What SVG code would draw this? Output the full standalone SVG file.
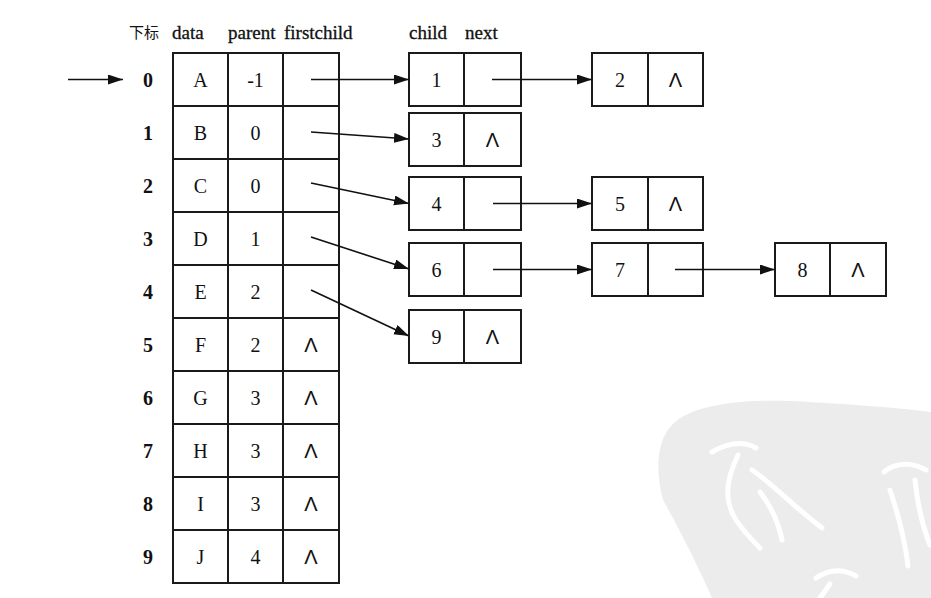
<svg xmlns="http://www.w3.org/2000/svg" width="931" height="598" viewBox="0 0 931 598">
<style>
.bg{fill:#ffffff}
.cell{fill:#ffffff;stroke:#1a1a1a;stroke-width:2}
.ln{stroke:#1a1a1a;stroke-width:2;fill:none}
.t{font-family:"Liberation Serif","DejaVu Serif",serif;font-size:20px;fill:#111;text-anchor:middle}
.ix{font-weight:bold}
.h{font-family:"Liberation Serif","DejaVu Serif",serif;font-size:19px;fill:#111;stroke:#111;stroke-width:0.3}
.cjk{font-family:"Liberation Serif","Noto Sans CJK SC",serif;font-size:15px;fill:#111}
.nul{font-family:"Liberation Sans","DejaVu Sans",sans-serif;font-size:20px;fill:#111;text-anchor:middle}
.arr{stroke:#111;stroke-width:1.6;fill:none;marker-end:url(#ah)}
.wm{fill:#ececec}
.ws{stroke:#ffffff;stroke-width:5;fill:none;stroke-linecap:round}
</style>
<defs>
<marker id="ah" markerUnits="userSpaceOnUse" markerWidth="16" markerHeight="11" refX="15" refY="5" orient="auto">
<path d="M0,0 L15,5 L0,10 z" fill="#111"/>
</marker>
</defs>
<rect class="bg" x="0" y="0" width="931" height="598"/>
<g id="watermark">
<path class="wm" d="M672,425 C690,405 740,399 790,401 C850,404 900,408 931,412 L931,598 L712,598 C700,570 680,530 663,500 C655,470 657,440 672,425 Z"/>
<path class="ws" d="M712,452 C726,444 742,440 756,448"/>
<path class="ws" d="M738,455 C728,476 722,498 736,520 C744,532 752,540 760,548"/>
<path class="ws" d="M752,470 C768,480 786,500 822,528"/>
<path class="ws" d="M760,492 C770,505 778,520 782,540"/>
<path class="ws" d="M884,472 C896,462 912,462 926,470"/>
<path class="ws" d="M890,490 C900,520 905,540 908,566"/>
<path class="ws" d="M915,480 C918,510 924,530 930,545"/>
<path class="ws" d="M816,578 C828,570 842,568 856,576"/>
<path class="ws" d="M830,584 L820,598"/>
</g>
<g id="headers">
<text class="cjk" x="129" y="38">下标</text>
<text class="h" x="172" y="39">data</text>
<text class="h" x="228" y="39">parent</text>
<text class="h" x="284" y="39">firstchild</text>
<text class="h" x="409" y="39">child</text>
<text class="h" x="465" y="39">next</text>
</g>
<g id="row0"><rect class="cell" x="173" y="53" width="166" height="53"/><line class="ln" x1="228" y1="53" x2="228" y2="106"/><line class="ln" x1="283" y1="53" x2="283" y2="106"/><text class="t ix" x="148" y="87">0</text><text class="t" x="200.5" y="87">A</text><text class="t" x="255.5" y="87">-1</text></g>
<g id="row1"><rect class="cell" x="173" y="106" width="166" height="53"/><line class="ln" x1="228" y1="106" x2="228" y2="159"/><line class="ln" x1="283" y1="106" x2="283" y2="159"/><text class="t ix" x="148" y="140">1</text><text class="t" x="200.5" y="140">B</text><text class="t" x="255.5" y="140">0</text></g>
<g id="row2"><rect class="cell" x="173" y="159" width="166" height="53"/><line class="ln" x1="228" y1="159" x2="228" y2="212"/><line class="ln" x1="283" y1="159" x2="283" y2="212"/><text class="t ix" x="148" y="193">2</text><text class="t" x="200.5" y="193">C</text><text class="t" x="255.5" y="193">0</text></g>
<g id="row3"><rect class="cell" x="173" y="212" width="166" height="53"/><line class="ln" x1="228" y1="212" x2="228" y2="265"/><line class="ln" x1="283" y1="212" x2="283" y2="265"/><text class="t ix" x="148" y="246">3</text><text class="t" x="200.5" y="246">D</text><text class="t" x="255.5" y="246">1</text></g>
<g id="row4"><rect class="cell" x="173" y="265" width="166" height="53"/><line class="ln" x1="228" y1="265" x2="228" y2="318"/><line class="ln" x1="283" y1="265" x2="283" y2="318"/><text class="t ix" x="148" y="299">4</text><text class="t" x="200.5" y="299">E</text><text class="t" x="255.5" y="299">2</text></g>
<g id="row5"><rect class="cell" x="173" y="318" width="166" height="53"/><line class="ln" x1="228" y1="318" x2="228" y2="371"/><line class="ln" x1="283" y1="318" x2="283" y2="371"/><text class="t ix" x="148" y="352">5</text><text class="t" x="200.5" y="352">F</text><text class="t" x="255.5" y="352">2</text><text class="nul" x="311" y="352">Λ</text></g>
<g id="row6"><rect class="cell" x="173" y="371" width="166" height="53"/><line class="ln" x1="228" y1="371" x2="228" y2="424"/><line class="ln" x1="283" y1="371" x2="283" y2="424"/><text class="t ix" x="148" y="405">6</text><text class="t" x="200.5" y="405">G</text><text class="t" x="255.5" y="405">3</text><text class="nul" x="311" y="405">Λ</text></g>
<g id="row7"><rect class="cell" x="173" y="424" width="166" height="53"/><line class="ln" x1="228" y1="424" x2="228" y2="477"/><line class="ln" x1="283" y1="424" x2="283" y2="477"/><text class="t ix" x="148" y="458">7</text><text class="t" x="200.5" y="458">H</text><text class="t" x="255.5" y="458">3</text><text class="nul" x="311" y="458">Λ</text></g>
<g id="row8"><rect class="cell" x="173" y="477" width="166" height="53"/><line class="ln" x1="228" y1="477" x2="228" y2="530"/><line class="ln" x1="283" y1="477" x2="283" y2="530"/><text class="t ix" x="148" y="511">8</text><text class="t" x="200.5" y="511">I</text><text class="t" x="255.5" y="511">3</text><text class="nul" x="311" y="511">Λ</text></g>
<g id="row9"><rect class="cell" x="173" y="530" width="166" height="53"/><line class="ln" x1="228" y1="530" x2="228" y2="583"/><line class="ln" x1="283" y1="530" x2="283" y2="583"/><text class="t ix" x="148" y="564">9</text><text class="t" x="200.5" y="564">J</text><text class="t" x="255.5" y="564">4</text><text class="nul" x="311" y="564">Λ</text></g>
<g id="node1"><rect class="cell" x="409" y="53" width="112" height="53"/><line class="ln" x1="464" y1="53" x2="464" y2="106"/><text class="t" x="436.5" y="87">1</text></g>
<g id="node2"><rect class="cell" x="592" y="53" width="111" height="53"/><line class="ln" x1="648" y1="53" x2="648" y2="106"/><text class="t" x="620" y="87">2</text><text class="nul" x="675.5" y="87">Λ</text></g>
<g id="node3"><rect class="cell" x="409" y="113" width="112" height="53"/><line class="ln" x1="464" y1="113" x2="464" y2="166"/><text class="t" x="436.5" y="147">3</text><text class="nul" x="492.5" y="147">Λ</text></g>
<g id="node4"><rect class="cell" x="409" y="177" width="112" height="53"/><line class="ln" x1="464" y1="177" x2="464" y2="230"/><text class="t" x="436.5" y="211">4</text></g>
<g id="node5"><rect class="cell" x="592" y="177" width="111" height="53"/><line class="ln" x1="648" y1="177" x2="648" y2="230"/><text class="t" x="620" y="211">5</text><text class="nul" x="675.5" y="211">Λ</text></g>
<g id="node6"><rect class="cell" x="409" y="243" width="112" height="53"/><line class="ln" x1="464" y1="243" x2="464" y2="296"/><text class="t" x="436.5" y="277">6</text></g>
<g id="node7"><rect class="cell" x="592" y="243" width="111" height="53"/><line class="ln" x1="648" y1="243" x2="648" y2="296"/><text class="t" x="620" y="277">7</text></g>
<g id="node8"><rect class="cell" x="775" y="243" width="111" height="53"/><line class="ln" x1="830" y1="243" x2="830" y2="296"/><text class="t" x="802.5" y="277">8</text><text class="nul" x="858" y="277">Λ</text></g>
<g id="node9"><rect class="cell" x="409" y="310" width="112" height="53"/><line class="ln" x1="464" y1="310" x2="464" y2="363"/><text class="t" x="436.5" y="344">9</text><text class="nul" x="492.5" y="344">Λ</text></g>
<g id="connectors">
<line class="arr" x1="68" y1="79.5" x2="123" y2="79.5"/>
<line class="arr" x1="311" y1="79.5" x2="409" y2="79.5"/>
<line class="arr" x1="492" y1="79.5" x2="592" y2="79.5"/>
<line class="arr" x1="311" y1="132" x2="409" y2="139"/>
<line class="arr" x1="311" y1="183" x2="409" y2="203.5"/>
<line class="arr" x1="311" y1="237" x2="409" y2="269"/>
<line class="arr" x1="311" y1="290" x2="409" y2="336"/>
<line class="arr" x1="493" y1="203.5" x2="592" y2="203.5"/>
<line class="arr" x1="493" y1="269.5" x2="592" y2="269.5"/>
<line class="arr" x1="675" y1="269.5" x2="775" y2="269.5"/>
</g>
</svg>
